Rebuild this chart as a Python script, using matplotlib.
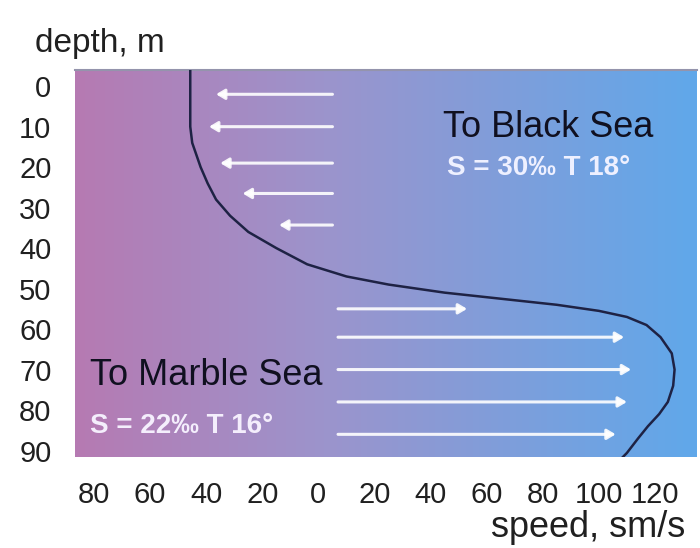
import numpy as np
import matplotlib.pyplot as plt
from matplotlib.colors import LinearSegmentedColormap

# velocity profile (negative = flow to the left)
prof_speed = [-45.7, -45.7, -45, -43.5, -42, -39.5, -36.5, -31.5, -25, -15, -4, 10, 25,
              45, 65, 85, 100, 110, 117, 122, 126, 127, 126.5, 124.6, 121.5,
              117.5, 114, 110, 108]
prof_depth = [-4, 10, 14, 17, 20, 24, 28, 32, 36, 40, 44, 47, 49,
              51, 52.5, 54, 55.5, 57, 59, 62, 66, 70, 74, 78, 81,
              84, 87, 90.6, 92]

# arrows: depth and head position, all start near 6 sm/s
up_depth = [2, 10, 19, 26.5, 34.3]
up_head = [-37.5, -40, -36, -28, -15]
low_depth = [55, 62, 70, 78, 86]
low_head = [54, 110, 112.5, 111, 107]
arrow_tail = 6

xticks = [-80, -60, -40, -20, 0, 20, 40, 60, 80, 100, 120]
yticks = [0, 10, 20, 30, 40, 50, 60, 70, 80, 90]

plt.rcParams['font.family'] = ['Liberation Sans', 'DejaVu Sans']

fig = plt.figure(figsize=(7, 5.48), dpi=100)
ax = fig.add_axes([75/700, 1 - 457/548, 622/700, 387/548])

xmin, xmax, ymin, ymax = -86.8, 135, -4, 91.6

# background gradient pink -> blue
cmap = LinearSegmentedColormap.from_list('bg', [(0, '#b67ab2'), (0.4, '#9c94cc'), (1, '#60a8ea')])
grad = np.linspace(0, 1, 256).reshape(1, -1)
ax.imshow(grad, cmap=cmap, aspect='auto', extent=[xmin, xmax, ymax, ymin], zorder=0)

for d, h in zip(up_depth, up_head):
    ax.annotate('', xy=(h, d), xytext=(arrow_tail, d),
                arrowprops=dict(arrowstyle='-|>,head_length=0.5,head_width=0.3',
                                color='white', lw=2.2, alpha=0.9))
for d, h in zip(low_depth, low_head):
    ax.annotate('', xy=(h, d), xytext=(arrow_tail, d),
                arrowprops=dict(arrowstyle='-|>,head_length=0.5,head_width=0.3',
                                color='white', lw=2.2, alpha=0.9))

ax.plot(prof_speed, prof_depth, color='#1e2244', lw=1.8, zorder=3)

ax.text(44.3, 12.6, 'To Black Sea', fontsize=26, color='#101020', va='baseline')
ax.text(46, 22, 'S = 30‰ T 18°', fontsize=20, color='#eef0ff', fontweight='bold', va='baseline')
ax.text(-81.4, 73.8, 'To Marble Sea', fontsize=26, color='#101020', va='baseline')
ax.text(-81.4, 85.7, 'S = 22‰ T 16°', fontsize=20, color='#f4eefc', fontweight='bold', va='baseline')

ax.set_xlim(xmin, xmax)
ax.set_ylim(ymax, ymin)
ax.set_xticks(xticks)
ax.set_xticklabels([str(abs(v)) for v in xticks])
ax.set_yticks(yticks)
ax.tick_params(length=0, labelsize=21, pad=17, colors='#202020')

for s in ['left', 'right', 'bottom']:
    ax.spines[s].set_visible(False)
ax.spines['top'].set_color('#9494ac')
ax.spines['top'].set_linewidth(1.5)

fig.text(35/700, 1 - 52/548, 'depth, m', fontsize=24, color='#202020', va='baseline')
fig.text(685/700, 1 - 537/548, 'speed, sm/s', fontsize=26, color='#202020', va='baseline', ha='right')

fig.savefig('out.png', dpi=100)
